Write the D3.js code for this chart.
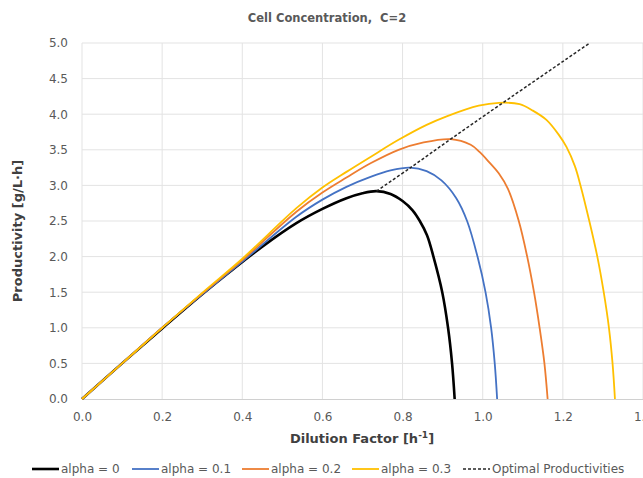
<!DOCTYPE html>
<html>
<head>
<meta charset="utf-8">
<script src="https://d3js.org/d3.v7.min.js"></script>
<style>
  body { margin: 0; background: #fff; }
  text { font-family: "DejaVu Sans", sans-serif; }
  .tick-label { font-size: 12px; fill: #595959; }
  .axis-title { font-size: 13px; font-weight: bold; fill: #404040; }
  .legend text { font-size: 12px; fill: #595959; }
</style>
</head>
<body>
<div id="chart"></div>
<script>
// Dilution factor (x) and productivity (y)
const d_a0 = [0, 0.1, 0.2, 0.3, 0.37, 0.45, 0.535, 0.6, 0.66, 0.7, 0.735, 0.77, 0.8, 0.825, 0.843, 0.861, 0.877, 0.899, 0.9135, 0.9235, 0.93];
const p_a0 = [0, 0.5, 0.99, 1.47, 1.79, 2.14, 2.47, 2.67, 2.82, 2.89, 2.92, 2.88, 2.78, 2.65, 2.5, 2.3, 2.0, 1.5, 1.0, 0.5, 0];

const d_a1 = [0, 0.1, 0.2, 0.3, 0.4, 0.535, 0.6, 0.66, 0.72, 0.77, 0.818, 0.86, 0.897, 0.934, 0.961, 0.987, 1.007, 1.021, 1.03, 1.036];
const p_a1 = [0, 0.5, 1.0, 1.47, 1.93, 2.56, 2.8, 2.98, 3.12, 3.21, 3.25, 3.2, 3.07, 2.82, 2.5, 2.0, 1.5, 1.0, 0.5, 0];

const d_a2 = [0, 0.1, 0.2, 0.3, 0.4, 0.535, 0.6, 0.66, 0.72, 0.79, 0.85, 0.92, 0.97, 0.992, 1.017, 1.04, 1.063, 1.09, 1.111, 1.128, 1.142, 1.154, 1.162];
const p_a2 = [0, 0.5, 1.0, 1.48, 1.95, 2.63, 2.9, 3.11, 3.31, 3.5, 3.6, 3.65, 3.57, 3.47, 3.32, 3.17, 2.95, 2.5, 2.0, 1.5, 1.0, 0.5, 0];

const d_a3 = [0, 0.1, 0.2, 0.3, 0.4, 0.535, 0.6, 0.66, 0.72, 0.79, 0.86, 0.91, 0.99, 1.04, 1.092, 1.125, 1.159, 1.19, 1.209, 1.23, 1.244, 1.266, 1.286, 1.302, 1.315, 1.324, 1.33];
const p_a3 = [0, 0.5, 1.0, 1.49, 1.97, 2.68, 2.97, 3.19, 3.4, 3.64, 3.85, 3.97, 4.12, 4.16, 4.14, 4.05, 3.92, 3.71, 3.54, 3.27, 3.0, 2.5, 2.0, 1.5, 1.0, 0.5, 0];

const d_opt = [0.735, 0.82, 0.92, 1.04, 1.267];
const p_opt = [2.92, 3.25, 3.65, 4.12, 5.0];

const xTicks = [0, 0.2, 0.4, 0.6, 0.8, 1.0, 1.2, 1.4];
const yTicks = [0, 0.5, 1.0, 1.5, 2.0, 2.5, 3.0, 3.5, 4.0, 4.5, 5.0];

const seriesNames = ["alpha = 0", "alpha = 0.1", "alpha = 0.2", "alpha = 0.3", "Optimal Productivities"];

const zip = (xs, ys) => xs.map((x, i) => ({ d: x, p: ys[i] }));
const series = [
  { name: seriesNames[0], data: zip(d_a0, p_a0), color: "#000000", width: 2.6, dash: null },
  { name: seriesNames[1], data: zip(d_a1, p_a1), color: "#4472C4", width: 1.8, dash: null },
  { name: seriesNames[2], data: zip(d_a2, p_a2), color: "#ED7D31", width: 1.8, dash: null },
  { name: seriesNames[3], data: zip(d_a3, p_a3), color: "#FFC000", width: 1.8, dash: null },
  { name: seriesNames[4], data: zip(d_opt, p_opt), color: "#262626", width: 1.5, dash: "3,2" }
];

const W = 643, H = 478;
const margin = { top: 43, right: 0, bottom: 79, left: 82 };
const width = W - margin.left - margin.right,
      height = H - margin.top - margin.bottom;

const svg = d3.select("#chart").append("svg")
  .attr("width", W).attr("height", H);

const g = svg.append("g")
  .attr("transform", `translate(${margin.left},${margin.top})`);

const x = d3.scaleLinear().domain([0, 1.4]).range([0, width]);
const y = d3.scaleLinear().domain([0, 5]).range([height, 0]);

// grid
g.append("g").selectAll("line").data(yTicks.filter(t => t > 0)).join("line")
  .attr("x1", 0).attr("x2", width)
  .attr("y1", d => y(d)).attr("y2", d => y(d))
  .attr("stroke", "#e3e3e3").attr("stroke-width", 1);
g.append("g").selectAll("line").data(xTicks).join("line")
  .attr("x1", d => x(d)).attr("x2", d => x(d))
  .attr("y1", 0).attr("y2", height)
  .attr("stroke", "#e3e3e3").attr("stroke-width", 1);

// x axis
const xAxis = g.append("g")
  .attr("transform", `translate(0,${height})`)
  .call(d3.axisBottom(x).tickValues(xTicks).tickSize(0).tickPadding(13)
    .tickFormat(d3.format(".1f")));
xAxis.select(".domain").attr("stroke", "#d0d0d0");
xAxis.selectAll("text").attr("class", "tick-label").attr("font-family", null).attr("font-size", null);

// y axis
const yAxis = g.append("g")
  .call(d3.axisLeft(y).tickValues(yTicks).tickSize(0).tickPadding(14)
    .tickFormat(d3.format(".1f")));
yAxis.select(".domain").remove();
yAxis.selectAll("text").attr("class", "tick-label").attr("font-family", null).attr("font-size", null);

// lines
const line = d3.line().x(d => x(d.d)).y(d => y(d.p)).curve(d3.curveCatmullRom.alpha(0.5));
series.forEach(s => {
  g.append("path")
    .datum(s.data)
    .attr("fill", "none")
    .attr("stroke", s.color)
    .attr("stroke-width", s.width)
    .attr("stroke-dasharray", s.dash)
    .attr("d", line);
});

// titles
svg.append("text")
  .attr("x", 327).attr("y", 22)
  .attr("text-anchor", "middle")
  .style("white-space", "pre")
  .style("font-size", "11.5px").style("font-weight", "bold").style("fill", "#595959")
  .text("Cell Concentration,  C=2");

svg.append("text")
  .attr("class", "axis-title")
  .attr("transform", "translate(22,231) rotate(-90)")
  .attr("text-anchor", "middle")
  .text("Productivity [g/L·h]");

const xt = svg.append("text")
  .attr("class", "axis-title")
  .attr("x", 362).attr("y", 443)
  .attr("text-anchor", "middle");
xt.append("tspan").text("Dilution Factor [h");
xt.append("tspan").attr("dy", -5).style("font-size", "9px").text("-1");
xt.append("tspan").attr("dy", 5).text("]");

// legend
const legendX = [32, 132, 242, 352, 463];
const legend = svg.append("g").attr("class", "legend");
series.forEach((s, i) => {
  const lg = legend.append("g").attr("transform", `translate(${legendX[i]},469)`);
  lg.append("line")
    .attr("x1", 0).attr("x2", 27).attr("y1", 0).attr("y2", 0)
    .attr("stroke", s.color).attr("stroke-width", s.width)
    .attr("stroke-dasharray", s.dash);
  lg.append("text").attr("x", 29).attr("y", 4).text(s.name);
});
</script>
</body>
</html>
